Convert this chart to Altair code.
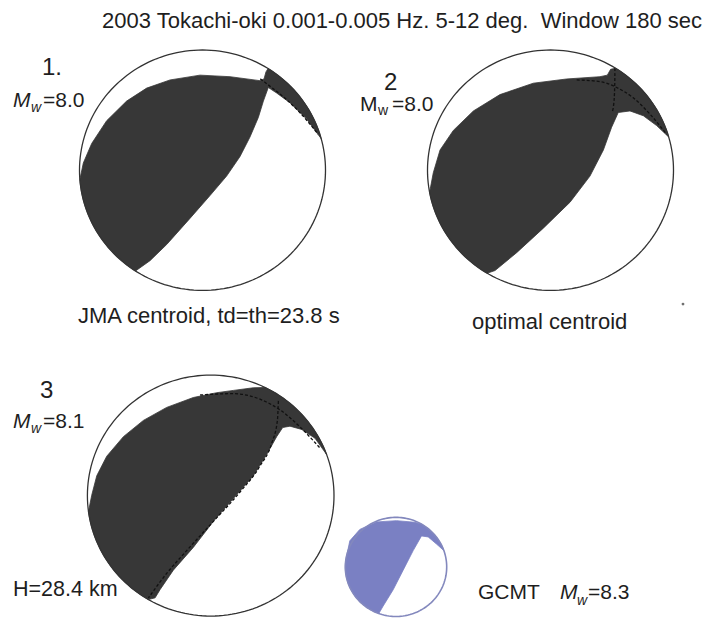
import math
import altair as alt
import pandas as pd

# ---------------- data ----------------
# Beach-ball outlines in unit-circle coordinates (u right, v up).
BALLS = ["1", "2", "3", "GCMT"]

# outer arc of the compressional area (degrees, from -> to, clockwise)
ARC_UPPER = {"1": (57.8, 15.2), "2": (58.0, 16.0), "3": (63.8, 19.9), "GCMT": (58.7, 19.2)}
# lower-left arc of the compressional area
ARC_LOWER = {"1": (237.0, 184.4), "2": (239.0, 190.6), "3": (239.6, 187.6), "GCMT": (250.2, 165.0)}

# sliver edge + nodal curve (from right edge down to lower-left)
NODAL = {
    "1": [(0.847, 0.425), (0.711, 0.561), (0.603, 0.642), (0.535, 0.688), (0.495, 0.575),
          (0.454, 0.439), (0.386, 0.276), (0.305, 0.114), (0.196, -0.049), (0.061, -0.211),
          (-0.102, -0.401), (-0.291, -0.618), (-0.427, -0.753)],
    "2": [(0.863, 0.371), (0.755, 0.453), (0.646, 0.493), (0.551, 0.480), (0.497, 0.358),
          (0.430, 0.168), (0.321, -0.049), (0.159, -0.266), (-0.058, -0.482), (-0.275, -0.686),
          (-0.451, -0.835)],
    "3": [(0.846, 0.476), (0.738, 0.549), (0.643, 0.576), (0.584, 0.565), (0.535, 0.489),
          (0.454, 0.341), (0.346, 0.165), (0.184, -0.024), (0.022, -0.214), (-0.141, -0.430),
          (-0.303, -0.619), (-0.411, -0.781), (-0.451, -0.849)],
    "GCMT": [(0.799, 0.461), (0.635, 0.605), (0.503, 0.625), (0.339, 0.329), (0.141, -0.066),
             (-0.056, -0.461), (-0.253, -0.789)],
}
# upper inner edge (from the left edge up and over to the top notch)
TOP = {
    "1": [(-0.969, 0.060), (-0.901, 0.222), (-0.779, 0.412), (-0.617, 0.575), (-0.454, 0.683),
          (-0.264, 0.751), (-0.020, 0.791), (0.224, 0.778), (0.467, 0.745), (0.500, 0.759),
          (0.516, 0.818)],
    "2": [(-0.953, -0.022), (-0.898, 0.168), (-0.790, 0.331), (-0.627, 0.493), (-0.411, 0.629),
          (-0.140, 0.724), (0.131, 0.759), (0.402, 0.778), (0.462, 0.791), (0.489, 0.840)],
    "3": [(-0.965, 0.003), (-0.924, 0.165), (-0.843, 0.327), (-0.708, 0.489), (-0.546, 0.624),
          (-0.357, 0.732), (-0.141, 0.814), (0.049, 0.854), (0.184, 0.873), (0.346, 0.895)],
    "GCMT": [(-0.911, 0.526), (-0.714, 0.757), (-0.385, 0.908), (0.010, 0.934), (0.372, 0.901)],
}

# dashed (smooth) nodal planes drawn over the shaded area
DASHED = {
    "1a": ("1", [(0.470, 0.760), (0.560, 0.690), (0.680, 0.590), (0.800, 0.470), (0.940, 0.300)]),
    "2a": ("2", [(0.213, 0.751), (0.402, 0.737), (0.538, 0.688), (0.673, 0.602), (0.809, 0.466),
                 (0.945, 0.298)]),
    "2b": ("2", [(0.524, 0.851), (0.522, 0.700), (0.515, 0.560), (0.500, 0.480)]),
    "3a": ("3", [(-0.086, 0.835), (0.184, 0.846), (0.400, 0.800), (0.562, 0.711), (0.724, 0.570),
                 (0.886, 0.395)]),
    "3b": ("3", [(0.549, 0.786), (0.541, 0.624), (0.495, 0.435), (0.400, 0.246), (0.238, 0.030),
                 (0.022, -0.214), (-0.195, -0.457), (-0.357, -0.646), (-0.505, -0.849)]),
}

# text labels
TITLE = "2003 Tokachi-oki 0.001-0.005 Hz. 5-12 deg.\u00a0 Window 180 sec"
PANEL_LABELS = ["1.", "2", "3"]
MW_VALUES = ["=8.0", "=8.0", "=8.1", "=8.3"]
CAPTIONS = ["JMA centroid, td=th=23.8 s", "optimal centroid", "H=28.4 km", "GCMT"]

# ---------------- layout ----------------
LAYOUT = {"1": (202.5, 174.0, 123.0), "2": (550.5, 174.0, 123.0),
          "3": (210.7, 507.0, 123.3), "GCMT": (396.0, 580.0, 50.7)}
DARK = "#373737"
BLUE = "#7a80c3"


def arc(a0, a1, n=48):
    return [(math.cos(math.radians(a0 + (a1 - a0) * k / n)),
             math.sin(math.radians(a0 + (a1 - a0) * k / n))) for k in range(n + 1)]


poly_rows, ring_rows, dash_rows = [], [], []
for b in BALLS:
    cx, cy, r = LAYOUT[b]
    pts = arc(*ARC_UPPER[b]) + NODAL[b] + arc(*ARC_LOWER[b]) + TOP[b]
    pts = pts + [pts[0]]
    for i, (u, v) in enumerate(pts):
        poly_rows.append({"ball": b, "i": i, "x": cx + r * u, "y": cy - r * v})
    for i, (u, v) in enumerate(arc(0, 360, 180)):
        ring_rows.append({"ball": b, "i": i, "x": cx + r * u, "y": cy - r * v})
for key, (b, pts) in DASHED.items():
    cx, cy, r = LAYOUT[b]
    for i, (u, v) in enumerate(pts):
        dash_rows.append({"ball": key, "i": i, "x": cx + r * u, "y": cy - r * v})

poly = pd.DataFrame(poly_rows)
ring = pd.DataFrame(ring_rows)
dash = pd.DataFrame(dash_rows)

normal_text = pd.DataFrame([
    {"x": 102, "y": 28, "t": TITLE, "s": 22},
    {"x": 42, "y": 77, "t": PANEL_LABELS[0], "s": 24},
    {"x": 43, "y": 109, "t": MW_VALUES[0], "s": 21},
    {"x": 384, "y": 92, "t": PANEL_LABELS[1], "s": 24},
    {"x": 360, "y": 113, "t": "M", "s": 21},
    {"x": 378, "y": 118, "t": "w", "s": 14},
    {"x": 392, "y": 113, "t": MW_VALUES[1], "s": 21},
    {"x": 78, "y": 330, "t": CAPTIONS[0], "s": 22},
    {"x": 472, "y": 337, "t": CAPTIONS[1], "s": 22},
    {"x": 40, "y": 407, "t": PANEL_LABELS[2], "s": 24},
    {"x": 43, "y": 438, "t": MW_VALUES[2], "s": 21},
    {"x": 13, "y": 610, "t": CAPTIONS[2], "s": 21.5},
    {"x": 478, "y": 613, "t": CAPTIONS[3], "s": 21},
    {"x": 588, "y": 613, "t": MW_VALUES[3], "s": 21},
])
italic_text = pd.DataFrame([
    {"x": 13, "y": 109, "t": "M", "s": 21}, {"x": 31, "y": 114, "t": "w", "s": 14},
    {"x": 13, "y": 438, "t": "M", "s": 21}, {"x": 31, "y": 443, "t": "w", "s": 14},
    {"x": 560, "y": 613, "t": "M", "s": 21}, {"x": 577, "y": 619, "t": "w", "s": 14},
])
dot = pd.DataFrame([{"x": 683, "y": 311}])

W, H = 697, 612
X = alt.X("x:Q", scale=alt.Scale(domain=[8, 8 + W], nice=False, zero=False), axis=None)
Y = alt.Y("y:Q", scale=alt.Scale(domain=[8, 8 + H], nice=False, zero=False, reverse=True), axis=None)

dark_fill = alt.Chart(poly[poly.ball != "GCMT"]).mark_line(
    fill=DARK, stroke=DARK, strokeWidth=0.8).encode(x=X, y=Y, order="i:Q", detail="ball:N")
blue_fill = alt.Chart(poly[poly.ball == "GCMT"]).mark_line(
    fill=BLUE, stroke=BLUE, strokeWidth=0.8).encode(x=X, y=Y, order="i:Q", detail="ball:N")
dashes = alt.Chart(dash).mark_line(
    stroke="#111111", strokeWidth=1.3, strokeDash=[3, 2], interpolate="monotone").encode(
    x=X, y=Y, order="i:Q", detail="ball:N")
rings = alt.Chart(ring[ring.ball != "GCMT"]).mark_line(
    stroke="#333333", strokeWidth=1.3).encode(x=X, y=Y, order="i:Q", detail="ball:N")
blue_ring = alt.Chart(ring[ring.ball == "GCMT"]).mark_line(
    stroke="#8388bd", strokeWidth=1.6).encode(x=X, y=Y, order="i:Q", detail="ball:N")

txt = alt.Chart(normal_text).mark_text(
    align="left", baseline="alphabetic", font="Liberation Sans", color="#1e1e1e").encode(
    x=X, y=Y, text="t:N", size=alt.Size("s:Q", scale=None))
itxt = alt.Chart(italic_text).mark_text(
    align="left", baseline="alphabetic", font="Liberation Sans", fontStyle="italic",
    color="#1e1e1e").encode(x=X, y=Y, text="t:N", size=alt.Size("s:Q", scale=None))
dots = alt.Chart(dot).mark_point(filled=True, size=8, color="#333333").encode(x=X, y=Y)

chart = alt.layer(dark_fill, blue_fill, dashes, rings, blue_ring, txt, itxt, dots).properties(
    width=W, height=H, padding=0,
    autosize=alt.AutoSizeParams(type="fit", contains="padding"),
).configure_view(stroke=None)

chart.save("out.html", embed_options={"renderer": "svg", "actions": False})
